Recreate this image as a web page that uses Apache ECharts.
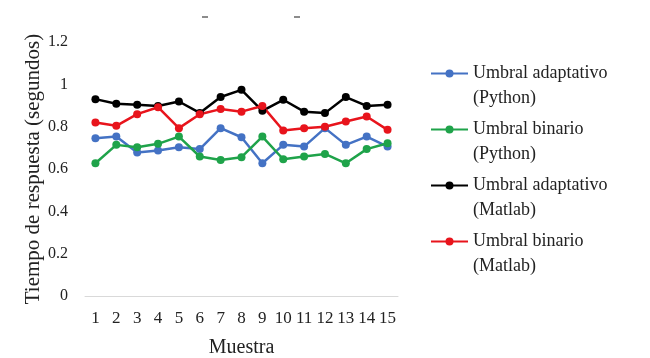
<!DOCTYPE html>
<html><head><meta charset="utf-8">
<script src="https://cdn.jsdelivr.net/npm/echarts@6/dist/echarts.min.js"></script>
<style>html,body{margin:0;padding:0;background:#fff}#c{width:650px;height:358px}</style>
</head><body><div id="c"></div>
<script>
const categories = ['1','2','3','4','5','6','7','8','9','10','11','12','13','14','15'];
const adaptPython = [0.745,0.753,0.678,0.687,0.703,0.694,0.793,0.75,0.627,0.714,0.706,0.793,0.714,0.753,0.706];
const binPython   = [0.627,0.714,0.703,0.719,0.753,0.659,0.643,0.656,0.753,0.646,0.659,0.671,0.627,0.694,0.722];
const adaptMatlab = [0.93,0.908,0.903,0.898,0.919,0.865,0.94,0.974,0.875,0.927,0.871,0.864,0.94,0.898,0.903];
const binMatlab   = [0.82,0.804,0.859,0.892,0.793,0.859,0.883,0.871,0.898,0.782,0.793,0.80,0.824,0.848,0.785];
const seriesNames = ['Umbral adaptativo\n(Python)','Umbral binario\n(Python)','Umbral adaptativo\n(Matlab)','Umbral binario\n(Matlab)'];
const colors = ['#4472C4','#1FA34A','#000000','#E8141C'];
const font = 'Liberation Serif';
const chart = echarts.init(document.getElementById('c'));
const mk = (i, d) => ({
  name: seriesNames[i], type: 'line', data: d, symbol: 'circle', symbolSize: 8,
  lineStyle: {width: 2.5, color: colors[i]}, itemStyle: {color: colors[i]}
});
chart.setOption({
  animation: false,
  color: colors,
  grid: {left: 85, right: 252, top: 42, bottom: 62, containLabel: false, outerBoundsMode: 'none'},
  xAxis: {
    type: 'category', data: categories,
    axisLine: {lineStyle: {color: '#d9d9d9', width: 1}}, axisTick: {show: false},
    axisLabel: {color: '#222', fontFamily: font, fontSize: 17, margin: 14, interval: 0, hideOverlap: false},
    name: 'Muestra', nameLocation: 'middle', nameGap: 42,
    nameTextStyle: {color: '#222', fontFamily: font, fontSize: 20}
  },
  yAxis: {
    type: 'value', min: 0, max: 1.2, interval: 0.2,
    splitLine: {show: false}, axisLine: {show: false}, axisTick: {show: false},
    axisLabel: {color: '#222', fontFamily: font, fontSize: 16, margin: 17},
    name: 'Tiempo de respuesta (segundos)', nameLocation: 'middle', nameGap: 40,
    nameTextStyle: {color: '#222', fontFamily: font, fontSize: 21}
  },
  legend: {
    orient: 'vertical', left: 430, top: 36, padding: 0, itemGap: -19,
    itemWidth: 37, itemHeight: 10,
    formatter: name => '\n' + name,
    textStyle: {color: '#222', fontFamily: font, fontSize: 18, lineHeight: 25}
  },
  graphic: [
    {type: 'line', shape: {x1: 202, y1: 17, x2: 208, y2: 17}, style: {stroke: '#666', lineWidth: 1.5}},
    {type: 'line', shape: {x1: 294, y1: 17, x2: 300, y2: 17}, style: {stroke: '#666', lineWidth: 1.5}}
  ],
  series: [mk(0, adaptPython), mk(1, binPython), mk(2, adaptMatlab), mk(3, binMatlab)]
});
</script></body></html>
